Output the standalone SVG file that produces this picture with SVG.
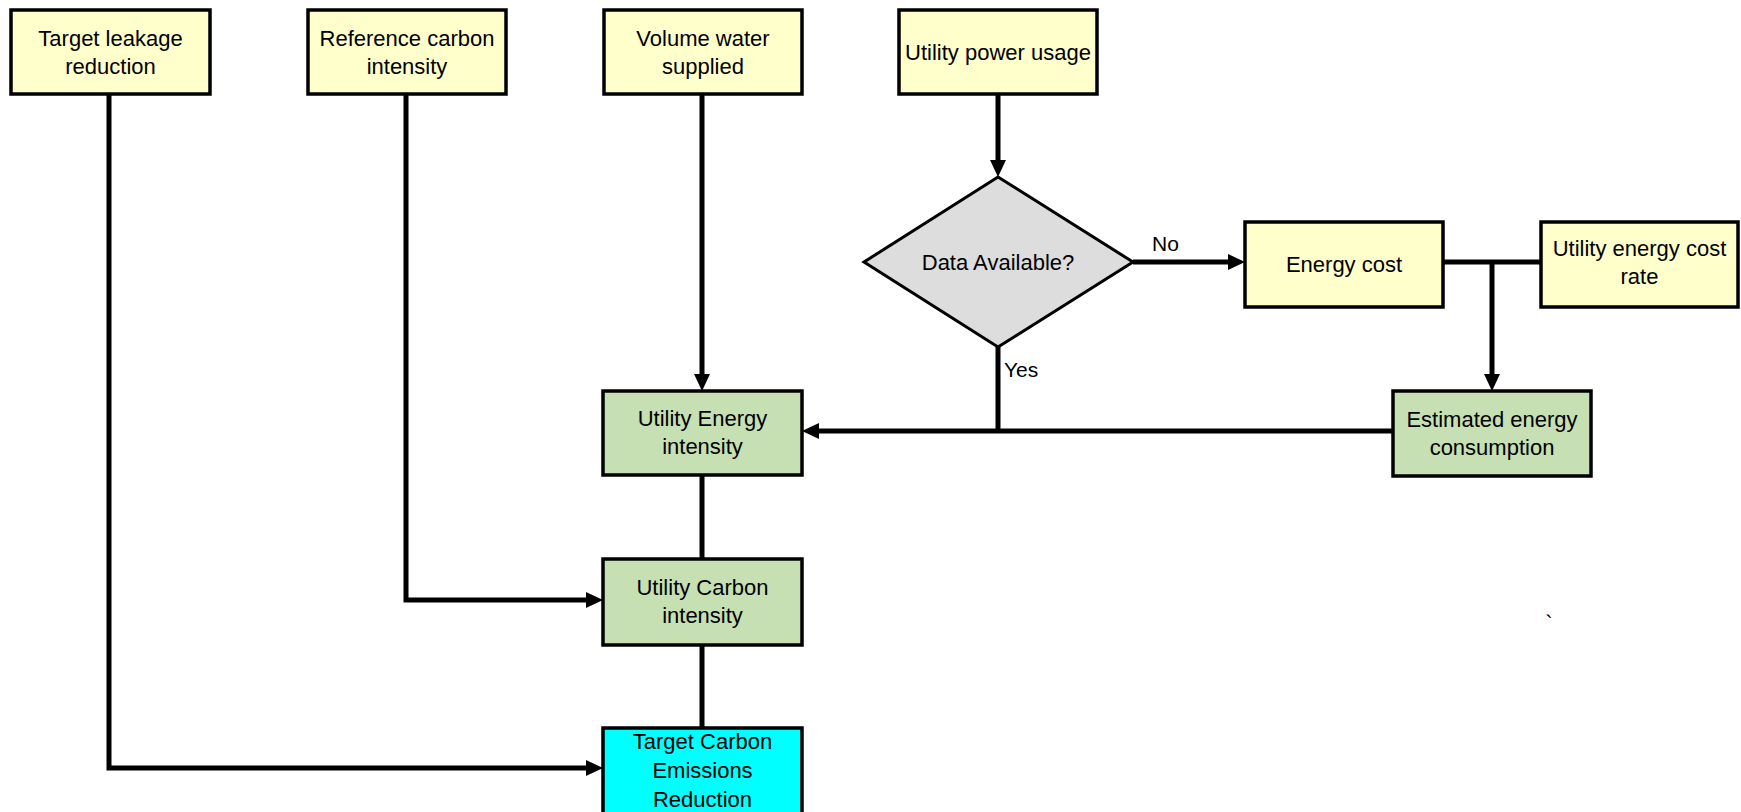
<svg xmlns="http://www.w3.org/2000/svg" width="1741" height="812" viewBox="0 0 1741 812">
<defs>
<style>
.box{stroke:#000;stroke-width:3.5}
.y{fill:#FFFFCC}
.g{fill:#C6E0B4}
.c{fill:#00FFFF}
.d{fill:#DDDDDD;stroke:#000;stroke-width:3}
text{font-family:"Liberation Sans",Arial,sans-serif;font-size:22px;fill:#000;text-anchor:middle}
.lbl{font-size:21px;text-anchor:start}
.con{fill:none;stroke:#000;stroke-width:5}
</style>
<marker id="ah" markerUnits="userSpaceOnUse" markerWidth="17" markerHeight="16" refX="9" refY="8" orient="auto">
<path d="M0,0 L17,8 L0,16 z" fill="#000"/>
</marker>
</defs>
<rect width="1741" height="812" fill="#fff"/>
<g id="connectors">
<path class="con" d="M109,94 V768 H595" marker-end="url(#ah)"/>
<path class="con" d="M406,94 V600 H595" marker-end="url(#ah)"/>
<path class="con" d="M702,94 V383" marker-end="url(#ah)"/>
<path class="con" d="M998,94 V169" marker-end="url(#ah)"/>
<path class="con" d="M1133,262 H1237" marker-end="url(#ah)"/>
<path class="con" d="M1443,262 H1541"/>
<path class="con" d="M1492,262 V383" marker-end="url(#ah)"/>
<path class="con" d="M1393,431 H810" marker-end="url(#ah)"/>
<path class="con" d="M998,347 V431"/>
<path class="con" d="M702,475 V559"/>
<path class="con" d="M702,645 V728"/>
<text class="lbl" x="1152" y="251">No</text>
<text class="lbl" x="1004" y="377">Yes</text>
</g>
<g id="n-target-leakage"><rect class="box y" x="11" y="10" width="199" height="84"/><text x="110.5" y="46">Target leakage</text><text x="110.5" y="74">reduction</text></g>
<g id="n-reference-carbon"><rect class="box y" x="308" y="10" width="198" height="84"/><text x="407" y="46">Reference carbon</text><text x="407" y="74">intensity</text></g>
<g id="n-volume-water"><rect class="box y" x="604" y="10" width="198" height="84"/><text x="703" y="46">Volume water</text><text x="703" y="74">supplied</text></g>
<g id="n-utility-power"><rect class="box y" x="899" y="10" width="198" height="84"/><text x="998" y="60">Utility power usage</text></g>
<g id="n-data-available"><polygon class="d" points="998,177 1133,262 998,347 864,262"/><text x="998" y="270">Data Available?</text></g>
<g id="n-energy-cost"><rect class="box y" x="1245" y="222" width="198" height="85"/><text x="1344" y="272">Energy cost</text></g>
<g id="n-utility-energy-cost-rate"><rect class="box y" x="1541" y="222" width="197" height="85"/><text x="1639.5" y="256">Utility energy cost</text><text x="1639.5" y="284">rate</text></g>
<g id="n-estimated-energy"><rect class="box g" x="1393" y="391" width="198" height="85"/><text x="1492" y="427">Estimated energy</text><text x="1492" y="455">consumption</text></g>
<g id="n-utility-energy-intensity"><rect class="box g" x="603" y="391" width="199" height="84"/><text x="702.5" y="426">Utility Energy</text><text x="702.5" y="454">intensity</text></g>
<g id="n-utility-carbon-intensity"><rect class="box g" x="603" y="559" width="199" height="86"/><text x="702.5" y="595">Utility Carbon</text><text x="702.5" y="623">intensity</text></g>
<g id="n-target-carbon"><rect class="box c" x="603" y="728" width="199" height="86"/><text x="702.5" y="749">Target Carbon</text><text x="702.5" y="778">Emissions</text><text x="702.5" y="807">Reduction</text></g>
<text x="1549" y="631">`</text>
</svg>
